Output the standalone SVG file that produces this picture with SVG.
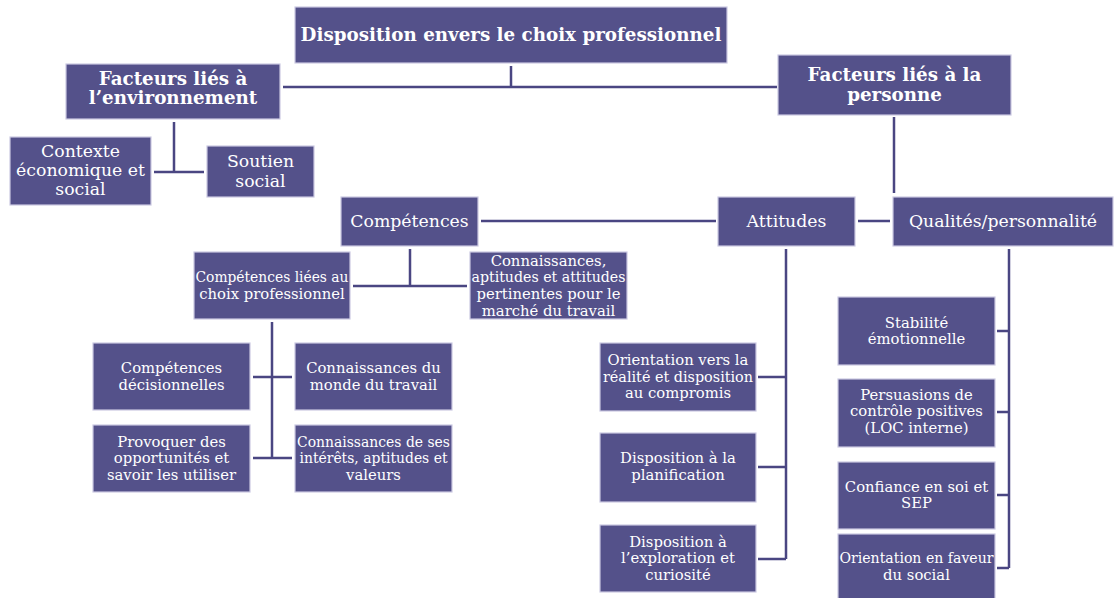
<svg xmlns="http://www.w3.org/2000/svg" width="1115" height="598" viewBox="0 0 1115 598">
<style>
.b{fill:#54518a;stroke:#cbc9e2;stroke-width:1.2}
.t{fill:#ffffff;font-family:"DejaVu Serif","Liberation Serif",serif;text-anchor:middle}
.h{font-size:18.3px;font-weight:bold}
.m{font-size:17.3px}
.s{font-size:14.8px}
.c{fill:none;stroke:#4a4682;stroke-width:2.5}
</style>
<rect width="1115" height="598" fill="#ffffff"/>
<g id="connectors">
<path class="c" d="M511,66 V87 M283,87 H777"/>
<path class="c" d="M174,122 V172 M154,172 H204"/>
<path class="c" d="M894,117 V193"/>
<path class="c" d="M481,221 H716 M858,221 H890"/>
<path class="c" d="M410,249 V286 M353,286 H467"/>
<path class="c" d="M272,322 V458 M253,377 H292 M253,458 H292"/>
<path class="c" d="M786,249 V559 M758,377 H786 M758,467 H786 M758,559 H786"/>
<path class="c" d="M1009,249 V568 M997,331 H1009 M997,412 H1009 M997,495 H1009 M997,568 H1009"/>
</g>
<g id="n-top"><rect class="b" x="295" y="7" width="432" height="56"/><text class="t h" x="511" y="41">Disposition envers le choix professionnel</text></g>
<g id="n-env"><rect class="b" x="66" y="64" width="214" height="55"/><text class="t h" x="173" y="85">Facteurs liés à</text><text class="t h" x="173" y="104">l’environnement</text></g>
<g id="n-pers"><rect class="b" x="778" y="55" width="233" height="60"/><text class="t h" x="894.5" y="81">Facteurs liés à la</text><text class="t h" x="894.5" y="101">personne</text></g>
<g id="n-contexte"><rect class="b" x="10" y="137" width="141" height="68"/><text class="t m" x="80.5" y="157">Contexte</text><text class="t m" x="80.5" y="176">économique et</text><text class="t m" x="80.5" y="195">social</text></g>
<g id="n-soutien"><rect class="b" x="207" y="146" width="107" height="51"/><text class="t m" x="260.5" y="167">Soutien</text><text class="t m" x="260.5" y="187">social</text></g>
<g id="n-competences"><rect class="b" x="341" y="197" width="137" height="49"/><text class="t m" x="409.5" y="227">Compétences</text></g>
<g id="n-attitudes"><rect class="b" x="718" y="197" width="137" height="49"/><text class="t m" x="786.5" y="227">Attitudes</text></g>
<g id="n-qualites"><rect class="b" x="893" y="197" width="220" height="49"/><text class="t m" x="1003" y="227">Qualités/personnalité</text></g>
<g id="n-complie"><rect class="b" x="194" y="252" width="156" height="67"/><text class="t s" x="272" y="282" textLength="153" lengthAdjust="spacingAndGlyphs">Compétences liées au</text><text class="t s" x="272" y="299">choix professionnel</text></g>
<g id="n-marche"><rect class="b" x="470" y="252" width="157" height="67"/><text class="t s" x="548.5" y="266">Connaissances,</text><text class="t s" x="548.5" y="282" textLength="154" lengthAdjust="spacingAndGlyphs">aptitudes et attitudes</text><text class="t s" x="548.5" y="299">pertinentes pour le</text><text class="t s" x="548.5" y="316">marché du travail</text></g>
<g id="n-decis"><rect class="b" x="93" y="343" width="157" height="67"/><text class="t s" x="171.5" y="373">Compétences</text><text class="t s" x="171.5" y="390">décisionnelles</text></g>
<g id="n-monde"><rect class="b" x="295" y="343" width="157" height="67"/><text class="t s" x="373.5" y="373">Connaissances du</text><text class="t s" x="373.5" y="390">monde du travail</text></g>
<g id="n-provoq"><rect class="b" x="93" y="425" width="157" height="67"/><text class="t s" x="171.5" y="447">Provoquer des</text><text class="t s" x="171.5" y="463">opportunités et</text><text class="t s" x="171.5" y="480">savoir les utiliser</text></g>
<g id="n-interets"><rect class="b" x="295" y="425" width="157" height="67"/><text class="t s" x="373.5" y="447" textLength="153" lengthAdjust="spacingAndGlyphs">Connaissances de ses</text><text class="t s" x="373.5" y="463" textLength="148" lengthAdjust="spacingAndGlyphs">intérêts, aptitudes et</text><text class="t s" x="373.5" y="480">valeurs</text></g>
<g id="n-orient"><rect class="b" x="600" y="343" width="156" height="68"/><text class="t s" x="678" y="365">Orientation vers la</text><text class="t s" x="678" y="382" textLength="150" lengthAdjust="spacingAndGlyphs">réalité et disposition</text><text class="t s" x="678" y="398">au compromis</text></g>
<g id="n-planif"><rect class="b" x="600" y="433" width="156" height="69"/><text class="t s" x="678" y="463">Disposition à la</text><text class="t s" x="678" y="480">planification</text></g>
<g id="n-explor"><rect class="b" x="600" y="525" width="156" height="67"/><text class="t s" x="678" y="547">Disposition à</text><text class="t s" x="678" y="563">l’exploration et</text><text class="t s" x="678" y="580">curiosité</text></g>
<g id="n-stab"><rect class="b" x="838" y="297" width="157" height="68"/><text class="t s" x="916.5" y="328">Stabilité</text><text class="t s" x="916.5" y="344">émotionnelle</text></g>
<g id="n-persu"><rect class="b" x="838" y="379" width="157" height="68"/><text class="t s" x="916.5" y="400">Persuasions de</text><text class="t s" x="916.5" y="416">contrôle positives</text><text class="t s" x="916.5" y="433">(LOC interne)</text></g>
<g id="n-confi"><rect class="b" x="838" y="462" width="157" height="67"/><text class="t s" x="916.5" y="492">Confiance en soi et</text><text class="t s" x="916.5" y="508">SEP</text></g>
<g id="n-social"><rect class="b" x="838" y="534" width="157" height="70"/><text class="t s" x="916.5" y="563" textLength="154" lengthAdjust="spacingAndGlyphs">Orientation en faveur</text><text class="t s" x="916.5" y="580">du social</text></g>
</svg>
